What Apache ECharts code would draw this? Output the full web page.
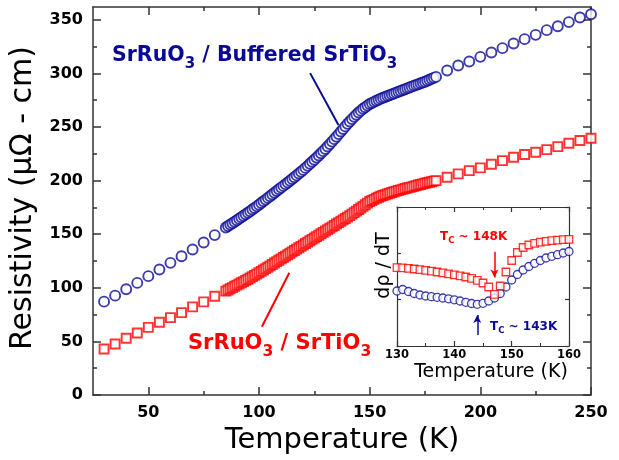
<!DOCTYPE html>
<html><head><meta charset="utf-8">
<script src="https://cdn.jsdelivr.net/npm/echarts@6/dist/echarts.min.js"></script>
<style>html,body{margin:0;padding:0;background:#fff}#c{width:619px;height:460px}</style>
</head><body><div id="c"></div>
<script>
// ---------- data ----------
const temperature = [
  30,35,40,45,50,55,60,65,70,75,80,
  85,86,87,88,89,90,91,92,93,94,95,96,97,98,99,100,101,102,103,104,
  105,106,107,108,109,110,111,112,113,114,115,116,117,118,119,120,121,122,123,124,
  125,126,127,128,129,130,131,132,133,134,135,136,137,138,139,140,141,142,143,144,
  145,146,147,148,149,150,151,152,153,154,155,156,157,158,159,160,161,162,163,164,
  165,166,167,168,169,170,171,172,173,174,175,176,177,178,179,180,
  185,190,195,200,205,210,215,220,225,230,235,240,245,250
];
const rhoBuffered = [
  87.1,92.7,98.7,104.6,110.9,117.1,123.3,129.5,135.8,142.3,149.2,
  156.3,157.6,159.0,160.3,161.7,163.0,164.4,165.8,167.2,168.6,
  170.0,171.5,173.0,174.5,176.0,177.5,179.1,180.7,182.3,183.9,
  185.5,187.1,188.7,190.3,191.9,193.5,195.1,196.7,198.3,199.9,
  201.5,203.2,204.9,206.6,208.3,210.0,211.9,213.8,215.7,217.6,
  219.5,221.5,223.5,225.5,227.5,229.5,231.8,234.1,236.4,238.7,
  241.0,243.4,245.8,248.2,250.6,253.0,255.2,257.4,259.5,261.5,
  263.5,265.3,267.0,268.5,270.0,271.5,272.5,273.5,274.5,275.5,
  276.5,277.3,278.1,278.9,279.7,280.5,281.3,282.1,282.9,283.7,
  284.5,285.3,286.1,286.9,287.7,288.5,289.3,290.0,290.8,291.5,
  292.3,293.2,294.1,295.0,295.9,296.8,
  302.7,307.4,311.1,315.5,319.5,323.6,327.9,332.0,336.0,340.4,344.1,347.9,352.2,355.3
];
const rhoSTO = [
  42.9,47.6,52.9,57.9,63.1,67.9,72.2,76.9,82.2,86.9,92.2,
  96.9,98.0,99.1,100.2,101.4,102.5,103.6,104.7,105.8,106.9,
  108.0,109.2,110.4,111.6,112.8,114.0,115.3,116.6,117.9,119.2,
  120.5,121.8,123.1,124.4,125.7,127.0,128.3,129.6,130.9,132.2,
  133.5,134.8,136.1,137.4,138.7,140.0,141.3,142.6,143.9,145.2,
  146.5,147.8,149.1,150.4,151.7,153.0,154.3,155.6,156.9,158.2,
  159.5,160.8,162.1,163.4,164.7,166.0,167.4,168.8,170.2,171.6,
  173.0,174.5,176.0,177.5,179.0,180.5,181.5,182.5,183.5,184.5,
  185.5,186.2,186.9,187.6,188.3,189.0,189.6,190.2,190.8,191.4,
  192.0,192.6,193.1,193.7,194.2,194.8,195.3,195.9,196.4,197.0,
  197.5,198.0,198.5,199.0,199.5,200.0,
  203.2,206.3,209.3,211.9,215.3,218.7,221.8,224.4,226.5,228.9,231.7,234.9,237.4,239.6
];
const insetTemperature = [130,131,132,133,134,135,136,137,138,139,140,141,142,143,144,145,146,147,148,149,150,151,152,153,154,155,156,157,158,159,160];
const dRhoSTO = [0.783,0.781,0.776,0.770,0.763,0.757,0.748,0.740,0.732,0.722,0.712,0.702,0.690,0.676,0.657,0.630,0.590,0.517,0.600,0.740,0.855,0.935,0.985,1.010,1.027,1.038,1.047,1.054,1.059,1.063,1.067];
const dRhoBuffered = [0.550,0.565,0.545,0.525,0.510,0.500,0.493,0.487,0.480,0.472,0.462,0.450,0.437,0.425,0.417,0.427,0.450,0.480,0.525,0.590,0.660,0.715,0.760,0.795,0.827,0.855,0.880,0.897,0.913,0.930,0.945];
const xMajorTicks = [50,100,150,200,250];
const xMinorTicks = [75,125,175,225];
const yMajorTicks = [0,50,100,150,200,250,300,350];
const yMinorTicks = [25,75,125,175,225,275,325];

// ---------- styling ----------
const BLUE = '#0a0a96', RED = '#ff0000', AX = '#333';
const FF = 'DejaVu Sans';
const pair = (xs, ys) => xs.map((x, i) => [x, ys[i]]);

function xAx(grid, pos, min, max, opts) {
  return Object.assign({
    type: 'value', gridIndex: grid, position: pos, min: min, max: max,
    axisLine: {show: true, onZero: false, lineStyle: {color: AX, width: 1.5}},
    axisTick: {show: true, inside: true, length: 8, lineStyle: {color: AX, width: 1.5}},
    axisLabel: {show: false},
    splitLine: {show: false}
  }, opts);
}
const mainLabel = {color: '#000', fontFamily: FF, fontWeight: 'bold', fontSize: 16, margin: 10};

const option = {
  animation: false,
  backgroundColor: '#fff',
  grid: [
    {left: 93, top: 7, width: 498, height: 388},
    {left: 397, top: 207, width: 172, height: 139, show: true, backgroundColor: '#fff', borderWidth: 0}
  ],
  xAxis: [
    xAx(0, 'bottom', 25, 250, {
      axisTick: {show: true, inside: true, length: 8, customValues: xMajorTicks, lineStyle: {color: AX, width: 1.5}},
      axisLabel: Object.assign({show: true, customValues: xMajorTicks}, mainLabel),
      name: 'Temperature (K)', nameLocation: 'middle', nameGap: 30,
      nameTextStyle: {color: '#000', fontFamily: FF, fontSize: 29}
    }),
    xAx(0, 'bottom', 25, 250, {axisLine: {show: false, onZero: false},
      axisTick: {show: true, inside: true, length: 4, customValues: xMinorTicks, lineStyle: {color: AX, width: 1.5}}}),
    xAx(0, 'top', 25, 250, {
      axisTick: {show: true, inside: true, length: 8, customValues: xMajorTicks, lineStyle: {color: AX, width: 1.5}}}),
    xAx(0, 'top', 25, 250, {axisLine: {show: false, onZero: false},
      axisTick: {show: true, inside: true, length: 4, customValues: xMinorTicks, lineStyle: {color: AX, width: 1.5}}}),
    xAx(1, 'bottom', 130, 160, {
      interval: 10,
      axisLine: {show: true, onZero: false, lineStyle: {color: AX, width: 1.2}},
      axisTick: {show: true, inside: true, length: 5, lineStyle: {color: AX, width: 1.2}},
      minorTick: {show: true, splitNumber: 2, length: 3, lineStyle: {color: AX, width: 1}},
      axisLabel: {show: true, color: '#000', fontFamily: FF, fontWeight: 'bold', fontSize: 11.5, margin: 3},
      name: 'Temperature (K)', nameLocation: 'middle', nameGap: 17,
      nameTextStyle: {color: '#000', fontFamily: FF, fontSize: 19, padding: [0, 0, 0, 16]}
    }),
    xAx(1, 'top', 130, 160, {
      interval: 10,
      axisLine: {show: true, onZero: false, lineStyle: {color: AX, width: 1.2}},
      axisTick: {show: true, inside: true, length: 5, lineStyle: {color: AX, width: 1.2}},
      minorTick: {show: true, splitNumber: 2, length: 3, lineStyle: {color: AX, width: 1}}
    })
  ],
  yAxis: [
    xAx(0, 'left', 0, 362, {
      axisTick: {show: true, inside: true, length: 8, customValues: yMajorTicks, lineStyle: {color: AX, width: 1.5}},
      axisLabel: Object.assign({show: true, customValues: yMajorTicks}, mainLabel),
      name: 'Resistivity (\u03bc\u03a9 - cm)', nameLocation: 'middle', nameGap: 47,
      nameTextStyle: {color: '#000', fontFamily: FF, fontSize: 30, padding: [0, 0, 0, 6]}
    }),
    xAx(0, 'left', 0, 362, {axisLine: {show: false, onZero: false},
      axisTick: {show: true, inside: true, length: 4, customValues: yMinorTicks, lineStyle: {color: AX, width: 1.5}}}),
    xAx(0, 'right', 0, 362, {
      axisTick: {show: true, inside: true, length: 8, customValues: yMajorTicks, lineStyle: {color: AX, width: 1.5}}}),
    xAx(0, 'right', 0, 362, {axisLine: {show: false, onZero: false},
      axisTick: {show: true, inside: true, length: 4, customValues: yMinorTicks, lineStyle: {color: AX, width: 1.5}}}),
    xAx(1, 'left', 0, 1.39, {
      interval: 1.39 / 3,
      axisLine: {show: true, onZero: false, lineStyle: {color: AX, width: 1.2}},
      axisTick: {show: true, inside: true, length: 4, lineStyle: {color: AX, width: 1.2}},
      name: 'd\u03c1 / dT', nameLocation: 'middle', nameGap: 3,
      nameTextStyle: {color: '#000', fontFamily: FF, fontSize: 19, padding: [0, 0, 0, 22]}
    }),
    xAx(1, 'right', 0, 1.39, {
      interval: 1.39 / 3,
      axisLine: {show: true, onZero: false, lineStyle: {color: AX, width: 1.2}},
      axisTick: {show: true, inside: true, length: 4, lineStyle: {color: AX, width: 1.2}}
    })
  ],
  series: [
    {
      type: 'scatter', name: 'SrRuO3 / Buffered SrTiO3', xAxisIndex: 0, yAxisIndex: 0,
      data: pair(temperature, rhoBuffered), symbol: 'circle', symbolSize: 10,
      itemStyle: {color: '#fff', borderColor: BLUE, borderWidth: 1.9}, clip: false,
      markLine: {silent: true, symbol: 'none', label: {show: false},
        lineStyle: {color: BLUE, width: 2, type: 'solid'},
        data: [[{coord: [123.1, 300.3]}, {coord: [135.9, 252]}]]}
    },
    {
      type: 'scatter', name: 'SrRuO3 / SrTiO3', xAxisIndex: 0, yAxisIndex: 0,
      data: pair(temperature, rhoSTO), symbol: 'rect', symbolSize: 9,
      itemStyle: {color: '#fff', borderColor: RED, borderWidth: 1.9}, clip: false,
      markLine: {silent: true, symbol: 'none', label: {show: false},
        lineStyle: {color: RED, width: 2, type: 'solid'},
        data: [[{coord: [113.7, 114.1]}, {coord: [101.3, 63.7]}]]}
    },
    {
      type: 'scatter', xAxisIndex: 4, yAxisIndex: 4,
      data: pair(insetTemperature, dRhoBuffered), symbol: 'circle', symbolSize: 8,
      itemStyle: {color: '#fff', borderColor: BLUE, borderWidth: 1.3},
      markLine: {silent: true, symbol: ['none', 'arrow'], symbolSize: [6, 8], label: {show: false},
        lineStyle: {color: BLUE, width: 1.5, type: 'solid'},
        data: [[{coord: [144, 0.11]}, {coord: [144, 0.31]}]]}
    },
    {
      type: 'scatter', xAxisIndex: 4, yAxisIndex: 4,
      data: pair(insetTemperature, dRhoSTO), symbol: 'rect', symbolSize: 7.5,
      itemStyle: {color: '#fff', borderColor: RED, borderWidth: 1.3},
      markLine: {silent: true, symbol: ['none', 'arrow'], symbolSize: [6, 8], label: {show: false},
        lineStyle: {color: RED, width: 1.5, type: 'solid'},
        data: [[{coord: [147, 0.943]}, {coord: [147, 0.685]}]]}
    }
  ],
  graphic: [
    {type: 'text', x: 112, y: 45.5, z: 100, style: {
      text: '{a|SrRuO}{s|3}{a| / Buffered SrTiO}{s|3}', fill: BLUE, align: 'left', verticalAlign: 'top',
      rich: {a: {font: 'bold 20.5px "DejaVu Sans"', verticalAlign: 'top', lineHeight: 20},
             s: {font: 'bold 15px "DejaVu Sans"', verticalAlign: 'bottom', lineHeight: 26}}}},
    {type: 'text', x: 188, y: 333, z: 100, style: {
      text: '{a|SrRuO}{s|3}{a| / SrTiO}{s|3}', fill: RED, align: 'left', verticalAlign: 'top',
      rich: {a: {font: 'bold 21px "DejaVu Sans"', verticalAlign: 'top', lineHeight: 20},
             s: {font: 'bold 15.5px "DejaVu Sans"', verticalAlign: 'bottom', lineHeight: 26.5}}}},
    {type: 'text', x: 440, y: 230.5, z: 100, style: {
      text: '{a|T}{s|C}{a| ~ 148K}', fill: RED, align: 'left', verticalAlign: 'top',
      rich: {a: {font: 'bold 12px "DejaVu Sans"', verticalAlign: 'top', lineHeight: 12},
             s: {font: 'bold 8.5px "DejaVu Sans"', verticalAlign: 'bottom', lineHeight: 14.5}}}},
    {type: 'text', x: 490, y: 320.5, z: 100, style: {
      text: '{a|T}{s|C}{a| ~ 143K}', fill: BLUE, align: 'left', verticalAlign: 'top',
      rich: {a: {font: 'bold 12px "DejaVu Sans"', verticalAlign: 'top', lineHeight: 12},
             s: {font: 'bold 8.5px "DejaVu Sans"', verticalAlign: 'bottom', lineHeight: 14.5}}}}
  ]
};
const chart = echarts.init(document.getElementById('c'), null, {renderer: 'canvas'});
chart.setOption(option);
</script></body></html>
